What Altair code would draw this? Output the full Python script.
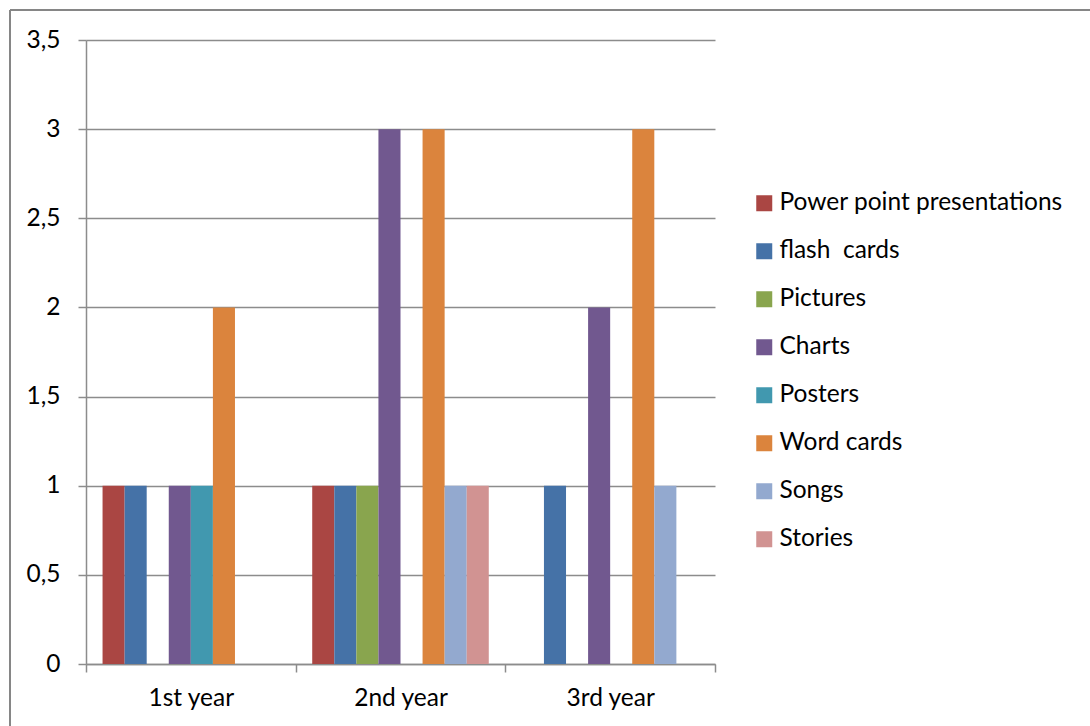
import altair as alt
import pandas as pd

# Number of teaching aids used per study year
years = ["1st year", "2nd year", "3rd year"]
aids = ["Power point presentations", "flash\u00a0 cards", "Pictures", "Charts",
        "Posters", "Word cards", "Songs", "Stories"]
colors = ["#AA4643", "#4572A7", "#89A54E", "#71588F",
          "#4198AF", "#DB843D", "#93A9CF", "#D19392"]

first_year = [1, 1, 0, 1, 1, 2, 0, 0]
second_year = [1, 1, 1, 3, 0, 3, 1, 1]
third_year = [0, 1, 0, 2, 0, 3, 1, 0]

y_ticks = [0, 0.5, 1, 1.5, 2, 2.5, 3, 3.5]

rows = []
for year, vals in zip(years, [first_year, second_year, third_year]):
    for aid, v in zip(aids, vals):
        rows.append({"year": year, "aid": aid, "count": v})
df = pd.DataFrame(rows)

FONT = "Lato"
FONT_SIZE = 24.5
GRID = "#8C8C8C"

bars = alt.Chart(df).mark_bar(strokeWidth=0).encode(
    x=alt.X("year:N", sort=years, title=None,
            scale=alt.Scale(paddingInner=0, paddingOuter=0),
            axis=alt.Axis(labelAngle=0, tickBand="extent", tickSize=8,
                          labelPadding=14, domainColor=GRID, tickColor=GRID,
                          domainWidth=1.5, tickWidth=1.5, grid=False)),
    xOffset=alt.XOffset("aid:N", sort=aids,
                        scale=alt.Scale(domain=aids, paddingInner=0, paddingOuter=0.75)),
    y=alt.Y("count:Q", title=None,
            scale=alt.Scale(domain=[0, 3.5], nice=False),
            axis=alt.Axis(values=y_ticks, tickSize=8, labelPadding=18,
                          labelExpr="replace(toString(datum.value), '.', ',')",
                          domainColor=GRID, tickColor=GRID, gridColor=GRID,
                          domainWidth=1.5, tickWidth=1.5, gridWidth=1.5)),
    color=alt.Color("aid:N", sort=aids, title=None,
                    scale=alt.Scale(domain=aids, range=colors),
                    legend=alt.Legend(orient="none", legendX=666, legendY=151,
                                      symbolType="square", symbolSize=256,
                                      symbolStrokeWidth=0, labelOffset=3,
                                      rowPadding=23, padding=0)),
)

# Outer frame of the chart
frame_top = alt.Chart(df).mark_rule(color="#868686", strokeWidth=1.5).encode(
    x=alt.value(-76), x2=alt.value(1100), y=alt.value(-30))
frame_left = alt.Chart(df).mark_rule(color="#868686", strokeWidth=1.5).encode(
    x=alt.value(-76), y=alt.value(-30), y2=alt.value(720))

chart = alt.layer(bars, frame_top, frame_left).properties(
    width=629, height=624,
    padding={"left": 86, "top": 40, "right": 375, "bottom": 62},
    autosize=alt.AutoSizeParams(type="none"),
).configure(font=FONT).configure_view(stroke=None).configure_axis(
    labelFont=FONT, labelFontSize=FONT_SIZE, labelColor="#000000"
).configure_legend(
    labelFont=FONT, labelFontSize=FONT_SIZE, labelColor="#000000", labelLimit=400
)

chart.save("out.html", embed_options={"renderer": "svg", "actions": False})
